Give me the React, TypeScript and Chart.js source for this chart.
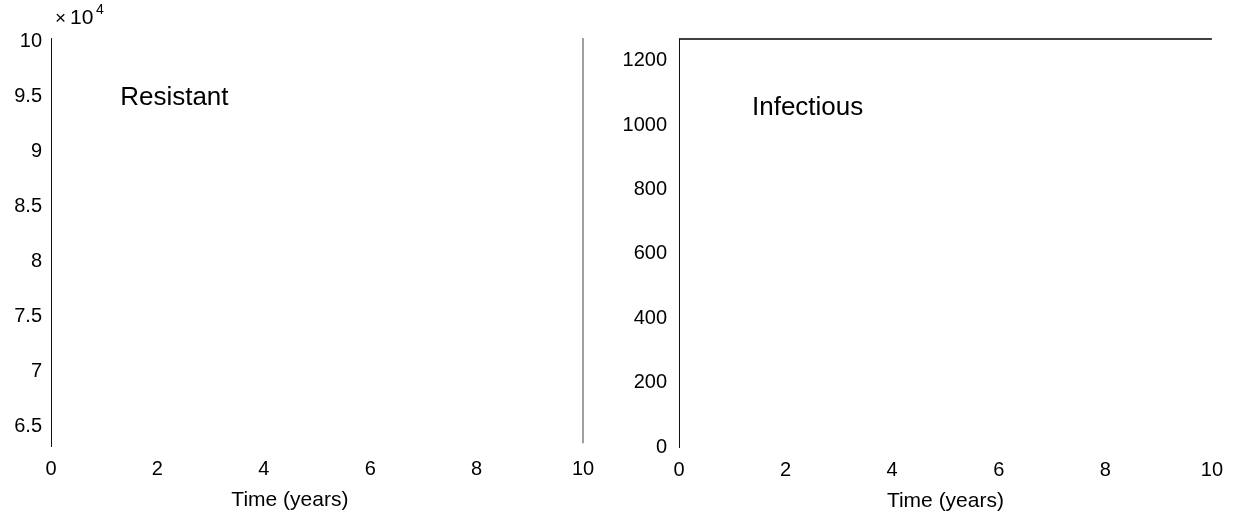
import { useEffect, useRef } from "react";
import { Chart, registerables } from "chart.js";

Chart.register(...registerables);

const timeTicks = [0, 2, 4, 6, 8, 10];
const resistantTicks = [65000, 70000, 75000, 80000, 85000, 90000, 95000, 100000];
const infectiousTicks = [0, 200, 400, 600, 800, 1000, 1200];

const resistantTime = [10, 10];
const resistantValues = [63450, 100300];
const infectiousTime = [0, 10];
const infectiousValues = [1268, 1268];

const FONT = "'Liberation Sans', Arial, Helvetica, sans-serif";

const notesPlugin = {
  id: "notes",
  afterDraw(chart: any, _args: any, opts: any) {
    const { ctx, scales } = chart;
    ctx.save();
    ctx.fillStyle = "#000";
    ctx.textBaseline = "middle";
    (opts.labels || []).forEach((l: any) => {
      ctx.textAlign = "left";
      ctx.font = `${l.size}px ${FONT}`;
      ctx.fillText(l.text, scales.x.getPixelForValue(l.x), scales.y.getPixelForValue(l.y));
    });
    if (opts.xTitle) {
      ctx.textAlign = "center";
      ctx.font = `21px ${FONT}`;
      ctx.fillText(opts.xTitle.text, scales.x.getPixelForValue(opts.xTitle.x), chart.chartArea.bottom + 54);
    }
    if (opts.exponent) {
      ctx.textAlign = "left";
      const x0 = chart.chartArea.left + 4;
      const y0 = chart.chartArea.top - 20;
      ctx.font = `19px ${FONT}`;
      ctx.fillText("\u00d7", x0, y0 + 1);
      ctx.font = `21px ${FONT}`;
      ctx.fillText("10", x0 + 15, y0);
      ctx.font = `14px ${FONT}`;
      ctx.fillText(String(opts.exponent), x0 + 41, y0 - 8);
    }
    ctx.restore();
  },
};

function buildConfig(p: {
  time: number[];
  values: number[];
  color: string;
  lineWidth: number;
  yTicks: number[];
  yMin: number;
  yMax: number;
  yFmt: (v: number) => string;
  yWidth: number;
  xHeight: number;
  padRight: number;
  padTop: number;
  yPad: number;
  labels: any[];
  xTitleAt: number;
  exponent?: number;
}) {
  return {
    type: "line" as const,
    data: {
      datasets: [
        {
          data: p.time.map((t, i) => ({ x: t, y: p.values[i] })),
          borderColor: p.color,
          borderWidth: p.lineWidth,
          pointRadius: 0,
          fill: false,
          tension: 0,
          clip: false as any,
        },
      ],
    },
    options: {
      responsive: false,
      animation: false as const,
      events: [],
      layout: { padding: { left: 0, right: p.padRight, top: p.padTop, bottom: 0 } },
      plugins: {
        legend: { display: false },
        tooltip: { enabled: false },
        notes: {
          labels: p.labels,
          exponent: p.exponent,
          xTitle: { text: "Time (years)", x: p.xTitleAt },
        },
      },
      scales: {
        x: {
          type: "linear" as const,
          min: 0,
          max: 10,
          afterBuildTicks: (s: any) => {
            s.ticks = timeTicks.map((v) => ({ value: v }));
          },
          afterFit: (s: any) => {
            s.height = p.xHeight;
          },
          grid: { display: false, drawTicks: false },
          border: { display: false },
          ticks: {
            color: "#000",
            font: { family: FONT, size: 20 },
            padding: 11,
            maxRotation: 0,
            autoSkip: false,
          },
          title: { display: false },
        },
        y: {
          type: "linear" as const,
          min: p.yMin,
          max: p.yMax,
          afterBuildTicks: (s: any) => {
            s.ticks = p.yTicks.map((v) => ({ value: v }));
          },
          afterFit: (s: any) => {
            s.width = p.yWidth;
          },
          grid: { display: false, drawTicks: false },
          border: { display: true, color: "#111", width: 1 },
          ticks: {
            color: "#000",
            font: { family: FONT, size: 20 },
            padding: p.yPad,
            autoSkip: false,
            callback: (v: any) => p.yFmt(Number(v)),
          },
        },
      },
    },
    plugins: [notesPlugin],
  };
}

function Panel(props: { cfg: any; left: number }) {
  const ref = useRef<HTMLCanvasElement | null>(null);
  useEffect(() => {
    if (!ref.current) return;
    const chart = new Chart(ref.current, props.cfg);
    return () => chart.destroy();
  }, []);
  return (
    <canvas
      ref={ref}
      width={617}
      height={518}
      style={{ position: "absolute", left: props.left, top: 0, width: 617, height: 518 }}
    />
  );
}

export default function App() {
  const leftCfg = buildConfig({
    time: resistantTime,
    values: resistantValues,
    color: "#808080",
    lineWidth: 1.5,
    yTicks: resistantTicks,
    yMin: 63200,
    yMax: 100300,
    yFmt: (v) => String(v / 10000),
    yWidth: 51,
    xHeight: 72,
    padRight: 34,
    padTop: 38,
    yPad: 9,
    labels: [{ text: "Resistant", x: 1.3, y: 94900, size: 26 }],
    xTitleAt: 4.49,
    exponent: 4,
  });
  const rightCfg = buildConfig({
    time: infectiousTime,
    values: infectiousValues,
    color: "#000",
    lineWidth: 1.5,
    yTicks: infectiousTicks,
    yMin: 0,
    yMax: 1268,
    yFmt: (v) => String(v),
    yWidth: 62,
    xHeight: 71,
    padRight: 22,
    padTop: 39,
    yPad: 12,
    labels: [{ text: "Infectious", x: 1.37, y: 1055, size: 26 }],
    xTitleAt: 5.0,
  });
  return (
    <div style={{ position: "absolute", left: 0, top: 0, width: 1234, height: 518, background: "#fff" }}>
      <Panel cfg={leftCfg} left={0} />
      <Panel cfg={rightCfg} left={617} />
    </div>
  );
}
